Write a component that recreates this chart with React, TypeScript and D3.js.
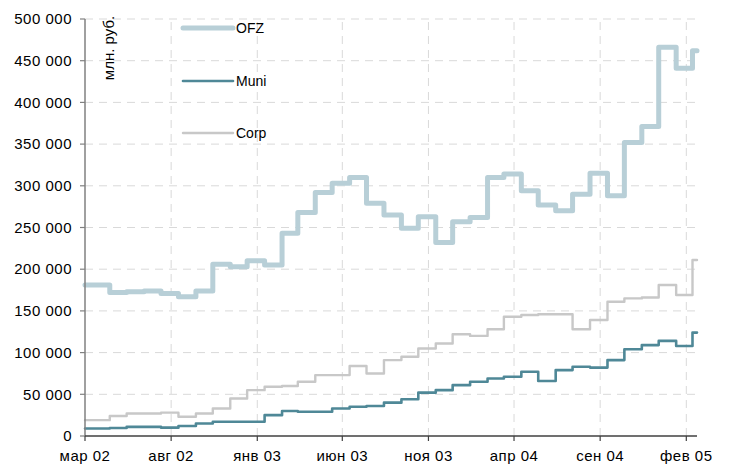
import React from "react";
import * as d3 from "d3";

const stepDates = [
  "2002-03-01", "2002-04-14", "2002-05-14", "2002-06-14", "2002-07-14", "2002-08-14",
  "2002-09-14", "2002-10-14", "2002-11-14", "2002-12-14", "2003-01-14", "2003-02-14",
  "2003-03-14", "2003-04-14", "2003-05-14", "2003-06-14", "2003-07-14", "2003-08-14",
  "2003-09-14", "2003-10-14", "2003-11-14", "2003-12-14", "2004-01-14", "2004-02-14",
  "2004-03-14", "2004-04-14", "2004-05-14", "2004-06-14", "2004-07-14", "2004-08-14",
  "2004-09-14", "2004-10-14", "2004-11-14", "2004-12-14", "2005-01-14", "2005-02-12",
  "2005-02-20",
];

const ofz = [
  181000, 172000, 173000, 174000, 171000, 167000, 174000, 206000, 203000, 210000,
  205000, 243000, 268000, 292000, 303000, 310000, 279000, 265000, 249000, 263000,
  232000, 257000, 262000, 310000, 314000, 294000, 277000, 270000, 290000, 315000,
  288000, 352000, 371000, 466000, 441000, 462000, 462000,
];

const muni = [
  9000, 9600, 11000, 11000, 10000, 12000, 15000, 17000, 17000, 17000,
  25000, 30000, 29000, 29000, 33000, 35000, 36000, 40000, 44000, 52000,
  55000, 61000, 65000, 69000, 71000, 77000, 66000, 79000, 83000, 82000,
  91000, 104000, 109000, 114000, 108000, 124000, 124000,
];

const corp = [
  19000, 24000, 27000, 27000, 28000, 23000, 27000, 33000, 45000, 55000,
  59000, 60000, 65000, 73000, 73000, 84000, 75000, 91000, 95000, 105000,
  111000, 122000, 120000, 128000, 143000, 145000, 146000, 146000, 128000, 139000,
  161000, 165000, 166000, 181000, 169000, 211000, 211000,
];

const xTickDates = ["2002-03-01", "2002-08-01", "2003-01-01", "2003-06-01", "2003-11-01", "2004-04-01", "2004-09-01", "2005-02-01"];
const xTickLabels = ["мар 02", "авг 02", "янв 03", "июн 03", "ноя 03", "апр 04", "сен 04", "фев 05"];
const yTicks = [0, 50000, 100000, 150000, 200000, 250000, 300000, 350000, 400000, 450000, 500000];

const seriesNames = ["OFZ", "Muni", "Corp"];
const seriesColors = ["#b8cfd7", "#4f8897", "#c8c8c8"];
const seriesWidths = [5, 2.6, 2.4];

const parse = d3.utcParse("%Y-%m-%d");
const fmt = (v: number) => (v === 0 ? "0" : d3.format(",")(v).replace(/,/g, " "));

export default function App() {
  const left = 85, right = 697, top = 19, bottom = 436;
  const x = d3.scaleUtc().domain([parse("2002-03-01")!, parse("2005-02-20")!]).range([left, right]);
  const y = d3.scaleLinear().domain([0, 500000]).range([bottom, top]);
  const dates = stepDates.map((d) => parse(d)!);
  const line = d3
    .line<number>()
    .x((_, i) => x(dates[i]))
    .y((v) => y(v))
    .curve(d3.curveStepAfter);
  const all = [ofz, muni, corp];
  const font = "'Liberation Sans', Arial, sans-serif";
  const legendY = [28, 81, 133];
  // draw order: OFZ, Corp, Muni
  const order = [0, 2, 1];
  return (
    <svg width={730} height={470} style={{ position: "absolute", left: 0, top: 0 }} fontFamily={font}>
      <rect width={730} height={470} fill="#fff" />
      {yTicks.slice(1).map((t) => (
        <line key={"gy" + t} x1={left} x2={right} y1={y(t)} y2={y(t)} stroke="#d9d9d9" strokeWidth={1} strokeDasharray="8,6" />
      ))}
      {xTickDates.slice(1).map((d) => (
        <line key={"gx" + d} x1={x(parse(d)!)} x2={x(parse(d)!)} y1={bottom} y2={top} stroke="#d9d9d9" strokeWidth={1} strokeDasharray="8,6" />
      ))}
      {order.map((k) => (
        <path key={seriesNames[k]} d={line(all[k]) || ""} fill="none" stroke={seriesColors[k]} strokeWidth={seriesWidths[k]} strokeLinejoin="round" strokeLinecap="round" />
      ))}
      <line x1={left} x2={left} y1={top} y2={bottom} stroke="#808080" strokeWidth={1.5} />
      {yTicks.map((t) => (
        <g key={"yt" + t}>
          <line x1={left - 5} x2={left} y1={y(t)} y2={y(t)} stroke="#808080" strokeWidth={1.2} />
          <text x={72} y={y(t)} dy="0.35em" textAnchor="end" fontSize={15} letterSpacing={0.5} fill="#000">
            {fmt(t)}
          </text>
        </g>
      ))}
      <line x1={left} x2={right} y1={bottom} y2={bottom} stroke="#404040" strokeWidth={1.5} />
      {xTickDates.map((d, i) => (
        <g key={"xt" + d}>
          <line x1={x(parse(d)!)} x2={x(parse(d)!)} y1={bottom} y2={bottom + 5} stroke="#404040" strokeWidth={1.2} />
          <text x={x(parse(d)!)} y={bottom + 25} textAnchor="middle" fontSize={15} letterSpacing={0.5} fill="#000">
            {xTickLabels[i]}
          </text>
        </g>
      ))}
      <text transform="translate(109,48) rotate(-90)" textAnchor="middle" dy="0.35em" fontSize={15} fill="#000">
        млн. руб.
      </text>
      {seriesNames.map((n, i) => (
        <g key={"lg" + n}>
          <line x1={183} x2={233} y1={legendY[i]} y2={legendY[i]} stroke={seriesColors[i]} strokeWidth={seriesWidths[i]} strokeLinecap="round" />
          <text x={236} y={legendY[i]} dy="0.35em" fontSize={14} fill="#000">
            {n}
          </text>
        </g>
      ))}
    </svg>
  );
}
